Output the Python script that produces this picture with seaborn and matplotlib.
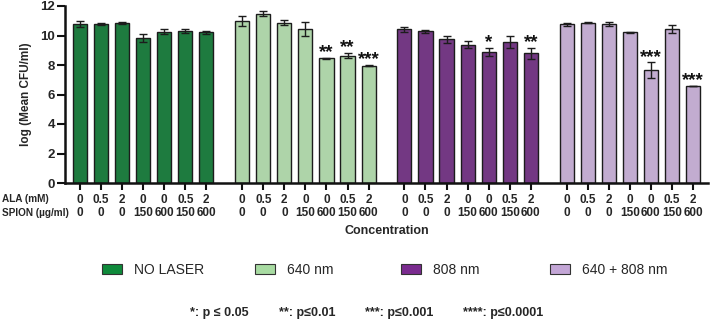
import numpy as np
import pandas as pd
import matplotlib
matplotlib.use("Agg")
import matplotlib.pyplot as plt
from matplotlib.patches import Patch
import seaborn as sns

# Treatment groups (laser condition) and their bar colours
groups = ["NO LASER", "640 nm", "808 nm", "640 + 808 nm"]
colors = ["#0F8A3B", "#A8DBA2", "#7A2B8F", "#C3A6D6"]

# Conditions inside each group
ala_mM = ["0", "0.5", "2", "0", "0", "0.5", "2"]
spion_ugml = ["0", "0", "0", "150", "600", "150", "600"]

# log(mean CFU/ml) and standard deviation for each group
mean_no_laser = [10.76, 10.78, 10.85, 9.83, 10.26, 10.30, 10.21]
sd_no_laser = [0.20, 0.05, 0.07, 0.27, 0.17, 0.15, 0.08]

mean_640 = [11.00, 11.46, 10.87, 10.42, 8.45, 8.63, 7.95]
sd_640 = [0.35, 0.17, 0.17, 0.47, 0.03, 0.17, 0.05]

mean_808 = [10.42, 10.30, 9.74, 9.36, 8.88, 9.58, 8.79]
sd_808 = [0.19, 0.10, 0.26, 0.24, 0.30, 0.40, 0.36]

mean_combo = [10.76, 10.87, 10.78, 10.21, 7.66, 10.44, 6.58]
sd_combo = [0.10, 0.02, 0.16, 0.02, 0.52, 0.28, 0.02]

# Significance marks above the bars
stars_no_laser = ["", "", "", "", "", "", ""]
stars_640 = ["", "", "", "", "**", "**", "***"]
stars_808 = ["", "", "", "", "*", "", "**"]
stars_combo = ["", "", "", "", "***", "", "***"]

footnotes = ["*: p \u2264 0.05", "**: p\u22640.01", "***: p\u22640.001", "****: p\u22640.0001"]

all_means = [mean_no_laser, mean_640, mean_808, mean_combo]
all_sds = [sd_no_laser, sd_640, sd_808, sd_combo]
all_stars = [stars_no_laser, stars_640, stars_808, stars_combo]

# Long-form table; x positions leave a gap between groups
group_step = 7.7
rows = []
for g, name in enumerate(groups):
    for i in range(len(ala_mM)):
        rows.append(dict(group=name, pos=g * group_step + i,
                         mean=all_means[g][i], sd=all_sds[g][i],
                         stars=all_stars[g][i],
                         label=f"{ala_mM[i]}\n{spion_ugml[i]}"))
df = pd.DataFrame(rows)

sns.set_theme(style="ticks")
plt.rcParams["font.family"] = ["Liberation Sans", "DejaVu Sans"]
plt.rcParams["font.weight"] = "bold"

W, H = 711, 322
fig = plt.figure(figsize=(W / 100, H / 100), dpi=100)
ax_left, ax_right, ax_top, ax_bottom = 65, 708, 6, 183
ax = fig.add_axes([ax_left / W, 1 - ax_bottom / H,
                   (ax_right - ax_left) / W, (ax_bottom - ax_top) / H])

palette = dict(zip(groups, colors))
sns.barplot(data=df, x="pos", y="mean", hue="group", palette=palette,
            native_scale=True, dodge=False, width=0.67, errorbar=None,
            edgecolor="#1c1c1c", linewidth=1.0, legend=False, ax=ax)

ax.errorbar(df["pos"], df["mean"], yerr=df["sd"], fmt="none",
            ecolor="#1c1c1c", elinewidth=1.0, capsize=3.2, capthick=1.0,
            zorder=5)

for _, r in df.iterrows():
    if r["stars"]:
        ax.annotate(r["stars"], (r["pos"], r["mean"] + r["sd"]),
                    xytext=(0, 0.5), textcoords="offset points",
                    ha="center", va="baseline", fontsize=13.5,
                    fontweight="bold", color="#111111")

ax.set_xlim(df["pos"].min() - 0.71, df["pos"].max() + 0.71)
ax.set_ylim(0, 12)
ax.set_yticks(np.arange(0, 13, 2))
ax.set_xticks(df["pos"])
ax.set_xticklabels(df["label"], fontsize=8.5, fontweight="bold",
                   linespacing=1.15)
ax.tick_params(axis="y", length=5.5, width=1.5, pad=1.5, labelsize=9.5,
               color="#111111")
ax.tick_params(axis="x", length=5, width=1.5, pad=3, color="#111111")
for lab in ax.get_yticklabels():
    lab.set_fontweight("bold")
sns.despine(ax=ax)
for side in ("left", "bottom"):
    ax.spines[side].set_linewidth(1.8)
    ax.spines[side].set_color("#111111")
ax.set_xlabel("")
ax.set_ylabel("log (Mean CFU/ml)", fontsize=8.5, fontweight="bold")
ax.yaxis.set_label_coords(-(ax_left - 32) / (ax_right - ax_left), 0.5)

# Row labels for the two-line tick labels
fig.text(2 / W, 1 - 199.5 / H, "ALA (mM)", fontsize=7.2, fontweight="bold",
         ha="left", va="center")
fig.text(2 / W, 1 - 213 / H, "SPION (\u00b5g/ml)", fontsize=7.2,
         fontweight="bold", ha="left", va="center")
fig.text(387 / W, 1 - 231 / H, "Concentration", fontsize=9,
         fontweight="bold", ha="center", va="center")

# Legend entries at evenly spaced positions
legend_x = [102, 255, 401, 550]
for name, col, lx in zip(groups, colors, legend_x):
    fig.legend(handles=[Patch(facecolor=col, edgecolor="#333333",
                              linewidth=0.8, label=name)],
               loc="center left", bbox_to_anchor=(lx / W, 1 - 270 / H),
               frameon=False, borderpad=0, borderaxespad=0,
               handlelength=1.45, handleheight=0.65, handletextpad=0.85,
               prop={"size": 10, "weight": "normal"})

foot_x = [190, 279, 365, 463]
for fx, txt in zip(foot_x, footnotes):
    fig.text(fx / W, 1 - 313 / H, txt, fontsize=9, fontweight="bold",
             ha="left", va="center")

fig.savefig("out.png", dpi=100)
